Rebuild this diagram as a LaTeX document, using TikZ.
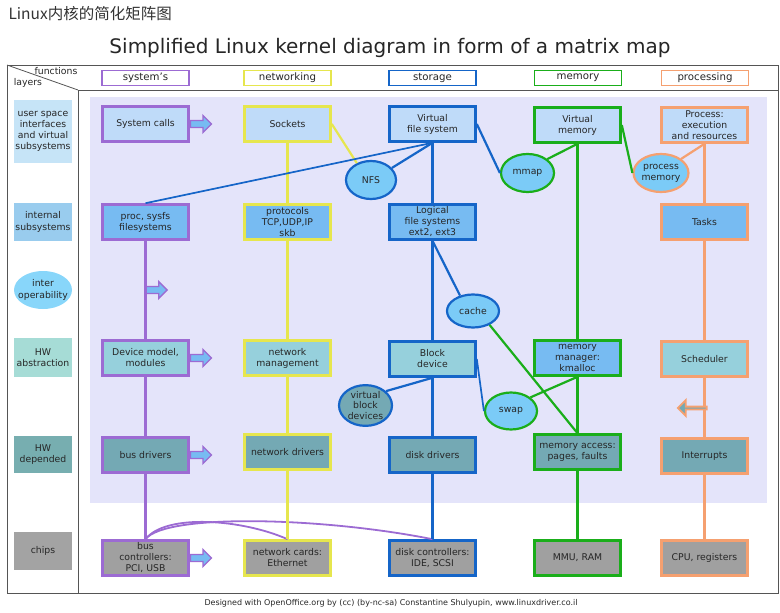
\documentclass[tikz,border=0pt]{standalone}
\usepackage{fontspec}
\setmainfont{DejaVu Sans}
\newfontfamily\cjk{Noto Sans CJK SC}
\usepackage{tikz}
\usepackage{xcolor}
\usetikzlibrary{positioning,shapes.geometric,shapes.arrows}

\definecolor{syscol}{HTML}{9C6BD3}
\definecolor{netcol}{HTML}{E6E64E}
\definecolor{stocol}{HTML}{1565C8}
\definecolor{memcol}{HTML}{1AAE1A}
\definecolor{prccol}{HTML}{F5A070}
\definecolor{rowa}{HTML}{BFDBF9}
\definecolor{rowb}{HTML}{77BBF2}
\definecolor{rowc}{HTML}{96D0DC}
\definecolor{rowd}{HTML}{74A9B4}
\definecolor{rowe}{HTML}{A0A0A0}
\definecolor{bubfill}{HTML}{7BCBF7}
\definecolor{lavbg}{HTML}{E4E4FA}
\definecolor{laya}{HTML}{C6E4F7}
\definecolor{layb}{HTML}{99CCEE}
\definecolor{layc}{HTML}{88D6FA}
\definecolor{layd}{HTML}{A6DCD6}
\definecolor{laye}{HTML}{77AEB0}
\definecolor{layf}{HTML}{A3A3A3}
\definecolor{framecol}{HTML}{555555}

\begin{document}
\begin{tikzpicture}[x=1pt,y=-1pt,
  cell/.style={draw,line width=2.6pt,minimum width=86pt,minimum height=35pt,inner sep=0pt,align=center,font=\fontsize{9.3}{11}\selectfont,text=black!85},
  hdr/.style={draw,line width=1.5pt,fill=white,minimum width=87pt,minimum height=15pt,inner sep=0pt,font=\fontsize{10.2}{12}\selectfont,text=black!85},
  lay/.style={minimum width=58pt,inner sep=0pt,align=center,font=\fontsize{9.3}{11.2}\selectfont,text=black!85},
  bub/.style={ellipse,draw,line width=2.2pt,fill=bubfill,inner sep=0pt,align=center,font=\fontsize{9.3}{10.8}\selectfont,text=black!85},
  link/.style={line width=2.2pt},
  fat/.style={single arrow,draw=syscol,fill=rowb,line width=1.4pt,minimum height=21pt,inner sep=2.8pt,single arrow head extend=5pt}
]
\useasboundingbox (0,0) rectangle (780,613);

% titles
\node[anchor=west,font=\cjk\fontsize{15.5}{17}\selectfont,text=black!80] (cntitle) at (5,14) {Linux内核的简化矩阵图};
\node[font=\fontsize{20}{24}\selectfont,text=black!85] (title) at (390,48) {Simplified Linux kernel diagram in form of a matrix map};

% frame and background
\fill[lavbg] (90,97) rectangle (767,503);
\draw[framecol,line width=1pt] (7,65) rectangle (778,593);
\draw[framecol,line width=1pt] (78,90) -- (778,90);
\draw[framecol,line width=1pt] (78,90) -- (78,593);
\draw[framecol,line width=0.8pt] (7,65) -- (78,90);
\node[font=\fontsize{9.3}{10}\selectfont,text=black!85] (fn) at (56,71) {functions};
\node[font=\fontsize{9.3}{10}\selectfont,text=black!85] (ly) at (28,83) {layers};

% column headers
\node[hdr,draw=syscol] (hsys) at (145.5,78) {system's};
\node[hdr,draw=netcol] (hnet) at (287.5,78) {networking};
\node[hdr,draw=stocol] (hsto) at (432.5,78) {storage};
\node[hdr,draw=memcol] (hmem) at (578,78) {memory};
\node[hdr,draw=prccol] (hprc) at (705,78) {processing};

% layers
\node[lay,fill=laya,minimum height=63pt] (luser) at (43,131.5) {user space\\interfaces\\and virtual\\subsystems};
\node[lay,fill=layb,minimum height=38pt] (lint) at (43,222) {internal\\subsystems};
\node[lay,ellipse,fill=layc,minimum height=38pt,inner xsep=-9pt,inner ysep=-5pt] (lop) at (43,290) {inter\\operability};
\node[lay,fill=layd,minimum height=39pt] (labs) at (43,357.5) {HW\\abstraction};
\node[lay,fill=laye,minimum height=37pt] (ldep) at (43,454.5) {HW\\depended};
\node[lay,fill=layf,minimum height=38pt] (lchp) at (43,551) {chips};

% row 1
\node[cell,draw=syscol,fill=rowa] (sys) at (145.5,124) {System calls};
\node[cell,draw=netcol,fill=rowa] (sock) at (287.5,124) {Sockets};
\node[cell,draw=stocol,fill=rowa] (vfs) at (432.5,124) {Virtual\\file system};
\node[cell,draw=memcol,fill=rowa] (vm) at (577.5,125) {Virtual\\memory};
\node[cell,draw=prccol,fill=rowa] (proc) at (704.5,125) {Process:\\execution\\and resources};
% row 2
\node[cell,draw=syscol,fill=rowb] (procfs) at (145.5,222) {proc, sysfs\\filesystems};
\node[cell,draw=netcol,fill=rowb] (proto) at (287.5,222) {protocols\\TCP,UDP,IP\\skb};
\node[cell,draw=stocol,fill=rowb] (lfs) at (432.5,222) {Logical\\file systems\\ext2, ext3};
\node[cell,draw=prccol,fill=rowb] (tasks) at (704.5,222) {Tasks};
% row 3
\node[cell,draw=syscol,fill=rowc] (devm) at (145.5,358) {Device model,\\modules};
\node[cell,draw=netcol,fill=rowc] (netm) at (287.5,358) {network\\management};
\node[cell,draw=stocol,fill=rowc] (blk) at (432.5,359) {Block\\device};
\node[cell,draw=memcol,fill=rowb] (mm) at (577.5,358) {memory\\manager:\\kmalloc};
\node[cell,draw=prccol,fill=rowc] (sched) at (704.5,359) {Scheduler};
% row 4
\node[cell,draw=syscol,fill=rowd] (busd) at (145.5,455) {bus drivers};
\node[cell,draw=netcol,fill=rowd] (netd) at (287.5,452) {network drivers};
\node[cell,draw=stocol,fill=rowd] (diskd) at (432.5,455) {disk drivers};
\node[cell,draw=memcol,fill=rowd] (mema) at (577.5,452) {memory access:\\pages, faults};
\node[cell,draw=prccol,fill=rowd] (irq) at (704.5,456) {Interrupts};
% row 5
\node[cell,draw=syscol,fill=rowe] (busc) at (145.5,558) {bus\\controllers:\\PCI, USB};
\node[cell,draw=netcol,fill=rowe] (netc) at (287.5,558) {network cards:\\Ethernet};
\node[cell,draw=stocol,fill=rowe] (diskc) at (432.5,558) {disk controllers:\\IDE, SCSI};
\node[cell,draw=memcol,fill=rowe] (mmu) at (577.5,558) {MMU, RAM};
\node[cell,draw=prccol,fill=rowe] (cpu) at (704.5,558) {CPU, registers};

% bubbles
\node[bub,draw=stocol,minimum width=50pt,minimum height=38pt] (nfs) at (371,180) {NFS};
\node[bub,draw=memcol,minimum width=53pt,minimum height=38pt] (mmap) at (527.5,173) {mmap};
\node[bub,draw=prccol,minimum width=52pt,minimum height=38pt] (pmem) at (661,173) {process\\memory};
\node[bub,draw=stocol,minimum width=52pt,minimum height=33pt] (cache) at (473,311) {cache};
\node[bub,draw=memcol,minimum width=52pt,minimum height=37pt] (swap) at (511,411) {swap};
\node[bub,draw=stocol,fill=rowd,minimum width=53pt,minimum height=37pt] (vbd) at (365.5,405.5) {virtual\\block\\devices};

% system's
\draw[link,syscol] (procfs.south) -- (devm.north);
\draw[link,syscol] (devm.south) -- (busd.north);
\draw[link,syscol] (busd.south) -- (busc.north);
\draw[syscol,line width=1.8pt] (busc.north) .. controls +(20,-26) and +(-45,-20) .. (netc.north);
\draw[syscol,line width=1.8pt] (busc.north) .. controls +(20,-26) and +(-110,-22) .. (diskc.north);
\node[fat,anchor=west] (asys) at (sys.east) {};
\node[fat,anchor=west] (aop) at (145.5,290) {};
\node[fat,anchor=west] (adev) at (devm.east) {};
\node[fat,anchor=west] (abus) at (busd.east) {};
\node[fat,anchor=west] (actl) at (busc.east) {};

% networking
\draw[link,netcol] (sock.south) -- (proto.north);
\draw[link,netcol] (proto.south) -- (netm.north);
\draw[link,netcol] (netm.south) -- (netd.north);
\draw[link,netcol] (netd.south) -- (netc.north);
\draw[link,netcol] (sock.east) -- (nfs.130);

% storage
\draw[link,stocol] (vfs.south) -- (lfs.north);
\draw[link,stocol] (lfs.south) -- (blk.north);
\draw[link,stocol] (blk.south) -- (diskd.north);
\draw[link,stocol] (diskd.south) -- (diskc.north);
\draw[stocol,line width=1.7pt] (procfs.north) -- (vfs.south);
\draw[link,stocol] (vfs.south) -- (nfs.30);
\draw[link,stocol] (vfs.east) -- (mmap.west);
\draw[link,stocol] (lfs.south) -- (cache.130);
\draw[link,stocol] (blk.south) -- (vbd.35);
\draw[stocol,line width=1.7pt] (blk.east) -- (swap.west);

% memory
\draw[link,memcol] (vm.south) -- (mm.north);
\draw[link,memcol] (mm.south) -- (mema.north);
\draw[link,memcol] (mema.south) -- (mmu.north);
\draw[link,memcol] (vm.south) -- (mmap.35);
\draw[link,memcol] (vm.east) -- (pmem.west);
\draw[link,memcol] (mm.south) -- (swap.35);
\draw[link,memcol] (cache.-40) -- (mema.north);

% processing
\draw[link,prccol] (proc.south) -- (tasks.north);
\draw[link,prccol] (tasks.south) -- (sched.north);
\draw[link,prccol] (sched.south) -- (irq.north);
\draw[link,prccol] (irq.south) -- (cpu.north);
\draw[link,prccol] (proc.south) -- (pmem.35);
\node[fat,draw=prccol,fill=rowd,line width=1.8pt,shape border rotate=180,minimum height=29pt,inner sep=0.5pt,single arrow head extend=6.5pt] (aint) at (693,408) {};

\node[font=\fontsize{8}{9}\selectfont,text=black!85] (foot) at (391,603) {Designed with OpenOffice.org by (cc) (by-nc-sa) Constantine Shulyupin, www.linuxdriver.co.il};
\end{tikzpicture}
\end{document}
